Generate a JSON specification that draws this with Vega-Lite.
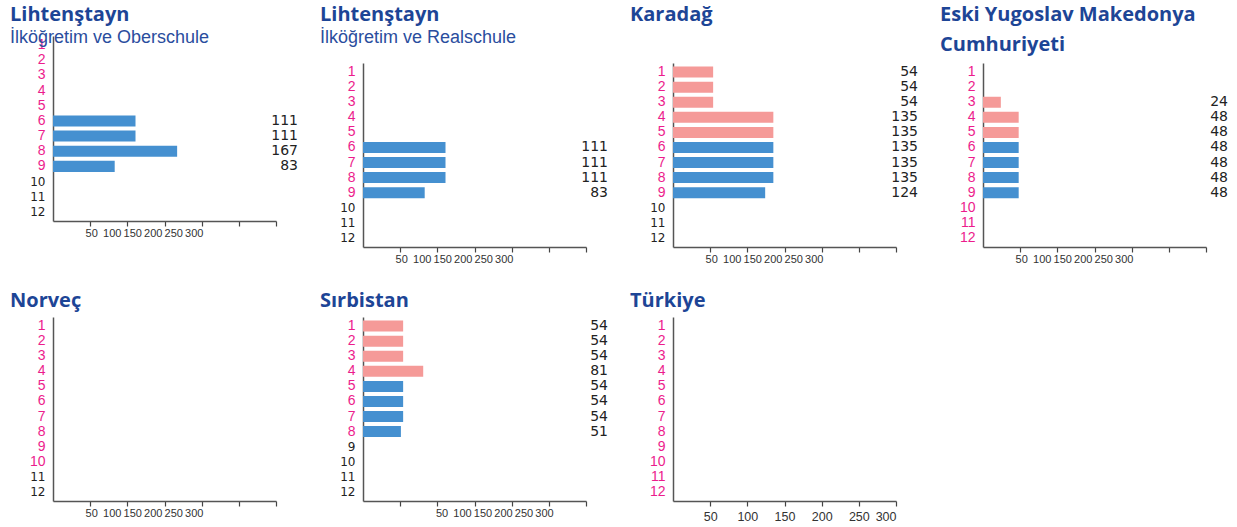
{
  "$schema": "https://vega.github.io/schema/vega-lite/v6.json",
  "background": "white",
  "padding": {"left": 10, "top": 5, "right": 5, "bottom": 5},
  "datasets": {
    "hours": [
      {"panel": "P1", "grade": 6, "hours": 111, "level": "secondary", "label": "111"},
      {"panel": "P1", "grade": 7, "hours": 111, "level": "secondary", "label": "111"},
      {"panel": "P1", "grade": 8, "hours": 167, "level": "secondary", "label": "167"},
      {"panel": "P1", "grade": 9, "hours": 83, "level": "secondary", "label": "83"},
      {"panel": "P2", "grade": 6, "hours": 111, "level": "secondary", "label": "111"},
      {"panel": "P2", "grade": 7, "hours": 111, "level": "secondary", "label": "111"},
      {"panel": "P2", "grade": 8, "hours": 111, "level": "secondary", "label": "111"},
      {"panel": "P2", "grade": 9, "hours": 83, "level": "secondary", "label": "83"},
      {"panel": "P3", "grade": 1, "hours": 54, "level": "primary", "label": "54"},
      {"panel": "P3", "grade": 2, "hours": 54, "level": "primary", "label": "54"},
      {"panel": "P3", "grade": 3, "hours": 54, "level": "primary", "label": "54"},
      {"panel": "P3", "grade": 4, "hours": 135, "level": "primary", "label": "135"},
      {"panel": "P3", "grade": 5, "hours": 135, "level": "primary", "label": "135"},
      {"panel": "P3", "grade": 6, "hours": 135, "level": "secondary", "label": "135"},
      {"panel": "P3", "grade": 7, "hours": 135, "level": "secondary", "label": "135"},
      {"panel": "P3", "grade": 8, "hours": 135, "level": "secondary", "label": "135"},
      {"panel": "P3", "grade": 9, "hours": 124, "level": "secondary", "label": "124"},
      {"panel": "P4", "grade": 3, "hours": 24, "level": "primary", "label": "24"},
      {"panel": "P4", "grade": 4, "hours": 48, "level": "primary", "label": "48"},
      {"panel": "P4", "grade": 5, "hours": 48, "level": "primary", "label": "48"},
      {"panel": "P4", "grade": 6, "hours": 48, "level": "secondary", "label": "48"},
      {"panel": "P4", "grade": 7, "hours": 48, "level": "secondary", "label": "48"},
      {"panel": "P4", "grade": 8, "hours": 48, "level": "secondary", "label": "48"},
      {"panel": "P4", "grade": 9, "hours": 48, "level": "secondary", "label": "48"},
      {"panel": "P6", "grade": 1, "hours": 54, "level": "primary", "label": "54"},
      {"panel": "P6", "grade": 2, "hours": 54, "level": "primary", "label": "54"},
      {"panel": "P6", "grade": 3, "hours": 54, "level": "primary", "label": "54"},
      {"panel": "P6", "grade": 4, "hours": 81, "level": "primary", "label": "81"},
      {"panel": "P6", "grade": 5, "hours": 54, "level": "secondary", "label": "54"},
      {"panel": "P6", "grade": 6, "hours": 54, "level": "secondary", "label": "54"},
      {"panel": "P6", "grade": 7, "hours": 54, "level": "secondary", "label": "54"},
      {"panel": "P6", "grade": 8, "hours": 51, "level": "secondary", "label": "51"}
    ]
  },
  "data": {"name": "hours"},
  "spacing": 26,
  "vconcat": [
    {
      "columns": 4,
      "align": "all",
      "spacing": 22,
      "concat": [
        {
          "title": {"text": "Lihtenştayn", "subtitle": "İlköğretim ve Oberschule", "offset": -11},
          "width": 223, "height": 211,
          "transform": [{"filter": "datum.panel == 'P1'"}],
          "encoding": {"y": {"field": "grade", "type": "ordinal", "scale": {"domain": [1,2,3,4,5,6,7,8,9,10,11,12], "range": [0, 185], "paddingInner": 0.27, "paddingOuter": 0.24},
            "axis": {"title": null, "ticks": false, "labelPadding": 8, "labelColor": {"expr": "datum.value <= 9 ? '#ec1c8c' : '#222222'"}, "labelFont": {"expr": "datum.value <= 9 ? 'Liberation Sans' : 'DejaVu Sans'"}, "labelFontSize": {"expr": "datum.value <= 9 ? 14 : 12"}}}},
          "layer": [
            {"mark": {"type": "bar"}, "encoding": {"x": {"field": "hours", "type": "quantitative", "scale": {"domain": [0, 300]}, "axis": {"title": null, "offset": -26, "values": [50,100,150,200,250,300], "grid": false, "labelFlush": false, "labelOffset": {"expr": "17.7 - datum.value / 3"}}},
              "color": {"field": "level", "type": "nominal", "scale": {"domain": ["primary", "secondary"], "range": ["#f59a98", "#4590d0"]}, "legend": null}}},
            {"mark": {"type": "text", "align": "right", "dx": 22, "font": "DejaVu Sans", "fontSize": 14, "color": "#222222"}, "encoding": {"x": {"datum": 300}, "text": {"field": "label"}}}
          ]
        },
        {
          "title": {"text": "Lihtenştayn", "subtitle": "İlköğretim ve Realschule", "offset": -11},
          "width": 223, "height": 211,
          "transform": [{"filter": "datum.panel == 'P2'"}],
          "encoding": {"y": {"field": "grade", "type": "ordinal", "scale": {"domain": [1,2,3,4,5,6,7,8,9,10,11,12], "range": [27, 211], "paddingInner": 0.27, "paddingOuter": 0.24},
            "axis": {"title": null, "ticks": false, "labelPadding": 8, "labelColor": {"expr": "datum.value <= 9 ? '#ec1c8c' : '#222222'"}, "labelFont": {"expr": "datum.value <= 9 ? 'Liberation Sans' : 'DejaVu Sans'"}, "labelFontSize": {"expr": "datum.value <= 9 ? 14 : 12"}}}},
          "layer": [
            {"mark": {"type": "bar"}, "encoding": {"x": {"field": "hours", "type": "quantitative", "scale": {"domain": [0, 300]}, "axis": {"title": null, "values": [50,100,150,200,250,300], "grid": false, "labelFlush": false, "labelOffset": {"expr": "17.7 - datum.value / 3"}}},
              "color": {"field": "level", "type": "nominal", "scale": {"domain": ["primary", "secondary"], "range": ["#f59a98", "#4590d0"]}, "legend": null}}},
            {"mark": {"type": "text", "align": "right", "dx": 22, "font": "DejaVu Sans", "fontSize": 14, "color": "#222222"}, "encoding": {"x": {"datum": 300}, "text": {"field": "label"}}}
          ]
        },
        {
          "title": {"text": "Karadağ", "offset": 11},
          "width": 223, "height": 211,
          "transform": [{"filter": "datum.panel == 'P3'"}],
          "encoding": {"y": {"field": "grade", "type": "ordinal", "scale": {"domain": [1,2,3,4,5,6,7,8,9,10,11,12], "range": [27, 211], "paddingInner": 0.27, "paddingOuter": 0.24},
            "axis": {"title": null, "ticks": false, "labelPadding": 8, "labelColor": {"expr": "datum.value <= 9 ? '#ec1c8c' : '#222222'"}, "labelFont": {"expr": "datum.value <= 9 ? 'Liberation Sans' : 'DejaVu Sans'"}, "labelFontSize": {"expr": "datum.value <= 9 ? 14 : 12"}}}},
          "layer": [
            {"mark": {"type": "bar"}, "encoding": {"x": {"field": "hours", "type": "quantitative", "scale": {"domain": [0, 300]}, "axis": {"title": null, "values": [50,100,150,200,250,300], "grid": false, "labelFlush": false, "labelOffset": {"expr": "17.7 - datum.value / 3"}}},
              "color": {"field": "level", "type": "nominal", "scale": {"domain": ["primary", "secondary"], "range": ["#f59a98", "#4590d0"]}, "legend": null}}},
            {"mark": {"type": "text", "align": "right", "dx": 22, "font": "DejaVu Sans", "fontSize": 14, "color": "#222222"}, "encoding": {"x": {"datum": 300}, "text": {"field": "label"}}}
          ]
        },
        {
          "title": {"text": ["Eski Yugoslav Makedonya", "Cumhuriyeti"], "lineHeight": 30, "offset": -19},
          "width": 223, "height": 211,
          "transform": [{"filter": "datum.panel == 'P4'"}],
          "encoding": {"y": {"field": "grade", "type": "ordinal", "scale": {"domain": [1,2,3,4,5,6,7,8,9,10,11,12], "range": [27, 211], "paddingInner": 0.27, "paddingOuter": 0.24},
            "axis": {"title": null, "ticks": false, "labelPadding": 8, "labelColor": "#ec1c8c", "labelFont": "Liberation Sans", "labelFontSize": 14}}},
          "layer": [
            {"mark": {"type": "bar"}, "encoding": {"x": {"field": "hours", "type": "quantitative", "scale": {"domain": [0, 300]}, "axis": {"title": null, "values": [50,100,150,200,250,300], "grid": false, "labelFlush": false, "labelOffset": {"expr": "17.7 - datum.value / 3"}}},
              "color": {"field": "level", "type": "nominal", "scale": {"domain": ["primary", "secondary"], "range": ["#f59a98", "#4590d0"]}, "legend": null}}},
            {"mark": {"type": "text", "align": "right", "dx": 22, "font": "DejaVu Sans", "fontSize": 14, "color": "#222222"}, "encoding": {"x": {"datum": 300}, "text": {"field": "label"}}}
          ]
        }
      ]
    },
    {
      "columns": 3,
      "align": "all",
      "spacing": 22,
      "concat": [
        {
          "title": {"text": "Norveç", "offset": 6.5},
          "width": 223, "height": 184,
          "transform": [{"filter": "datum.panel == 'P5'"}],
          "encoding": {"y": {"field": "grade", "type": "ordinal", "scale": {"domain": [1,2,3,4,5,6,7,8,9,10,11,12], "paddingInner": 0.27, "paddingOuter": 0.24},
            "axis": {"title": null, "ticks": false, "labelPadding": 8, "labelColor": {"expr": "datum.value <= 10 ? '#ec1c8c' : '#222222'"}, "labelFont": {"expr": "datum.value <= 10 ? 'Liberation Sans' : 'DejaVu Sans'"}, "labelFontSize": {"expr": "datum.value <= 10 ? 14 : 12"}}}},
          "layer": [
            {"mark": {"type": "bar"}, "encoding": {"x": {"field": "hours", "type": "quantitative", "scale": {"domain": [0, 300]}, "axis": {"title": null, "values": [50,100,150,200,250,300], "grid": false, "labelFlush": false, "labelOffset": {"expr": "17.7 - datum.value / 3"}}},
              "color": {"field": "level", "type": "nominal", "scale": {"domain": ["primary", "secondary"], "range": ["#f59a98", "#4590d0"]}, "legend": null}}}
          ]
        },
        {
          "title": {"text": "Sırbistan", "offset": 6.5},
          "width": 223, "height": 184,
          "transform": [{"filter": "datum.panel == 'P6'"}],
          "encoding": {"y": {"field": "grade", "type": "ordinal", "scale": {"domain": [1,2,3,4,5,6,7,8,9,10,11,12], "paddingInner": 0.27, "paddingOuter": 0.24},
            "axis": {"title": null, "ticks": false, "labelPadding": 8, "labelColor": {"expr": "datum.value <= 8 ? '#ec1c8c' : '#222222'"}, "labelFont": {"expr": "datum.value <= 8 ? 'Liberation Sans' : 'DejaVu Sans'"}, "labelFontSize": {"expr": "datum.value <= 8 ? 14 : 12"}}}},
          "layer": [
            {"mark": {"type": "bar"}, "encoding": {"x": {"field": "hours", "type": "quantitative", "scale": {"domain": [0, 300]}, "axis": {"title": null, "values": [50,100,150,200,250,300], "grid": false, "labelFlush": false, "labelOffset": {"expr": "58 - datum.value / 3"}}},
              "color": {"field": "level", "type": "nominal", "scale": {"domain": ["primary", "secondary"], "range": ["#f59a98", "#4590d0"]}, "legend": null}}},
            {"mark": {"type": "text", "align": "right", "dx": 22, "font": "DejaVu Sans", "fontSize": 14, "color": "#222222"}, "encoding": {"x": {"datum": 300}, "text": {"field": "label"}}}
          ]
        },
        {
          "title": {"text": "Türkiye", "offset": 6.5},
          "width": 223, "height": 184,
          "transform": [{"filter": "datum.panel == 'P7'"}],
          "encoding": {"y": {"field": "grade", "type": "ordinal", "scale": {"domain": [1,2,3,4,5,6,7,8,9,10,11,12], "paddingInner": 0.27, "paddingOuter": 0.24},
            "axis": {"title": null, "ticks": false, "labelPadding": 8, "labelColor": "#ec1c8c", "labelFont": "Liberation Sans", "labelFontSize": 14}}},
          "layer": [
            {"mark": {"type": "bar"}, "encoding": {"x": {"field": "hours", "type": "quantitative", "scale": {"domain": [0, 300]}, "axis": {"title": null, "values": [50,100,150,200,250,300], "grid": false, "labelFlush": true, "labelPadding": 4, "labelFontSize": 12.5}},
              "color": {"field": "level", "type": "nominal", "scale": {"domain": ["primary", "secondary"], "range": ["#f59a98", "#4590d0"]}, "legend": null}}}
          ]
        }
      ]
    }
  ],
  "config": {
    "view": {"stroke": null},
    "axis": {"domainColor": "#555555", "domainWidth": 1.5, "tickColor": "#444444", "tickWidth": 1.2, "tickSize": 5},
    "axisX": {"labelFont": "Liberation Sans", "labelFontSize": 11, "labelColor": "#333333", "labelOverlap": false, "labelPadding": 1},
    "title": {"font": "Open Sans", "fontSize": 20, "fontWeight": "bold", "color": "#1d4596", "anchor": "start", "frame": "group", "baseline": "top", "dx": -43,
      "subtitleFont": "Liberation Sans", "subtitleFontSize": 18, "subtitleColor": "#2a4d9e", "subtitlePadding": 4}
  }
}
